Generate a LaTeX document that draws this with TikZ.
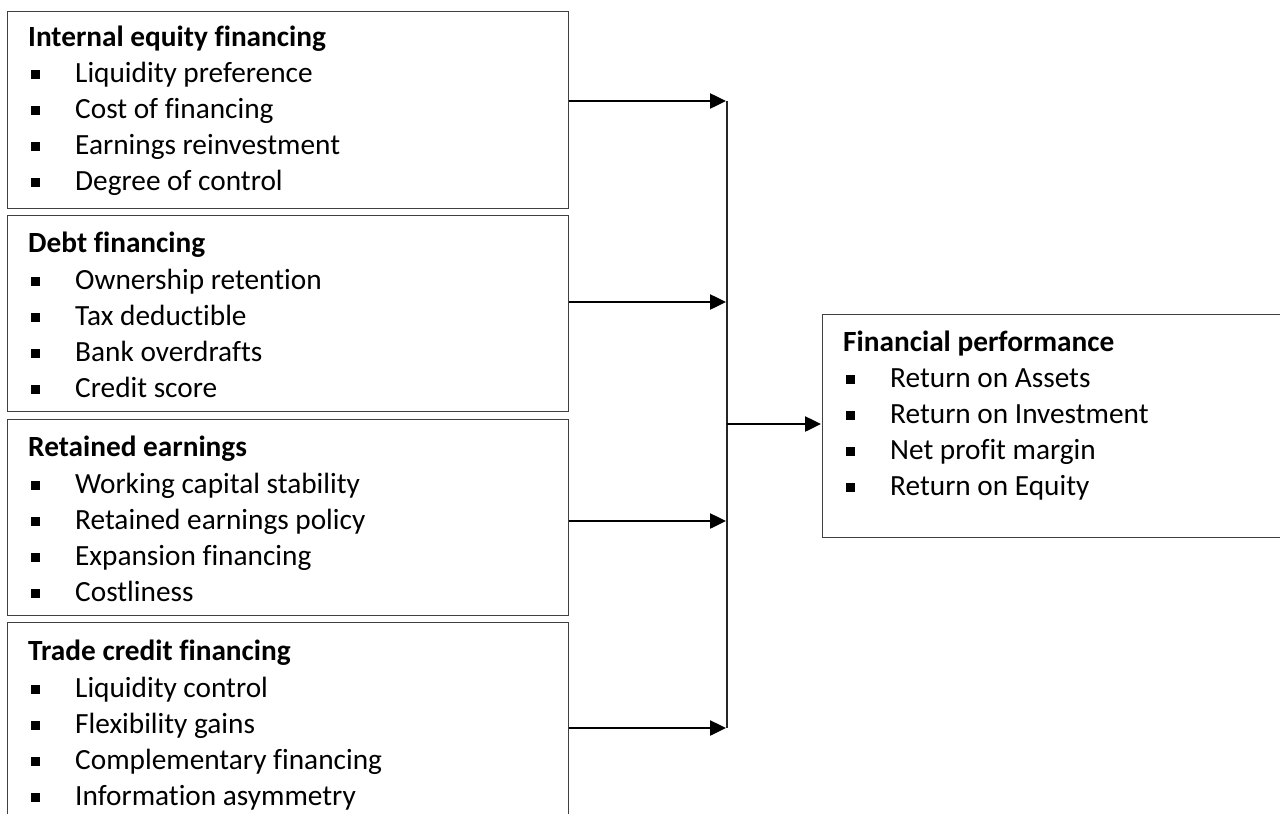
\documentclass[tikz,border=0pt]{standalone}
\usepackage{fontspec}
\setmainfont{Carlito}[Ligatures=NoCommon]
\usetikzlibrary{arrows.meta}
\tikzset{
  boxframe/.style={draw=black!75, line width=1.2pt, anchor=north west, inner sep=0pt},
  bul/.style={fill=black, inner sep=0pt, minimum size=9pt},
  itemtext/.style={anchor=base west, inner sep=0pt, font=\fontsize{29.3}{32}\selectfont},
  titletext/.style={anchor=base west, inner sep=0pt, font=\fontsize{29.3}{32}\selectfont\bfseries},
  feed/.style={line width=2.5pt, -{Triangle[length=16pt,width=15pt]}, shorten >=1pt},
  bus/.style={line width=1.4pt, draw=black!85}
}
\newcommand\itemline[4]{%
  \node[bul] (#1b) at ({#2+28},{#3-8}) {};
  \node[itemtext] (#1) at ({#2+68},{#3}) {#4};
}
\begin{document}
\begin{tikzpicture}[x=1pt,y=-1pt]
\useasboundingbox (0,0) rectangle (1280,814);
% boxes
\node[boxframe, minimum width=561pt, minimum height=197pt] (b1) at (7,11) {};
\node[boxframe, minimum width=561pt, minimum height=196pt] (b2) at (7,215) {};
\node[boxframe, minimum width=561pt, minimum height=196pt] (b3) at (7,419) {};
\node[boxframe, minimum width=561pt, minimum height=230pt] (b4) at (7,622) {};
\node[boxframe, minimum width=480pt, minimum height=223pt] (fp) at (822,314) {};
% box 1
\node[titletext] (t1) at (28,46) {Internal equity financing};
\itemline{i11}{7}{82}{Liquidity preference}
\itemline{i12}{7}{118}{Cost of financing}
\itemline{i13}{7}{154}{Earnings reinvestment}
\itemline{i14}{7}{190}{Degree of control}
% box 2
\node[titletext] (t2) at (28,252) {Debt financing};
\itemline{i21}{7}{289}{Ownership retention}
\itemline{i22}{7}{325}{Tax deductible}
\itemline{i23}{7}{361}{Bank overdrafts}
\itemline{i24}{7}{397}{Credit score}
% box 3
\node[titletext] (t3) at (28,456) {Retained earnings};
\itemline{i31}{7}{493}{Working capital stability}
\itemline{i32}{7}{529}{Retained earnings policy}
\itemline{i33}{7}{565}{Expansion financing}
\itemline{i34}{7}{601}{Costliness}
% box 4
\node[titletext] (t4) at (28,660) {Trade credit financing};
\itemline{i41}{7}{697}{Liquidity control}
\itemline{i42}{7}{733}{Flexibility gains}
\itemline{i43}{7}{769}{Complementary financing}
\itemline{i44}{7}{805}{Information asymmetry}
% right box
\node[titletext] (t5) at (843,351) {Financial performance};
\itemline{i51}{822}{387}{Return on Assets}
\itemline{i52}{822}{423}{Return on Investment}
\itemline{i53}{822}{459}{Net profit margin}
\itemline{i54}{822}{495}{Return on Equity}
% bus
\coordinate (c1) at (727,101);
\coordinate (c2) at (727,302);
\coordinate (c3) at (727,521);
\coordinate (c4) at (727,728);
\coordinate (cm) at (727,424);
\draw[bus] (c1) -- (c4);
\draw[feed] (c1 -| b1.east) -- (c1);
\draw[feed] (c2 -| b2.east) -- (c2);
\draw[feed] (c3 -| b3.east) -- (c3);
\draw[feed] (c4 -| b4.east) -- (c4);
\draw[feed] (cm) -- (cm -| fp.west);
\end{tikzpicture}
\end{document}
